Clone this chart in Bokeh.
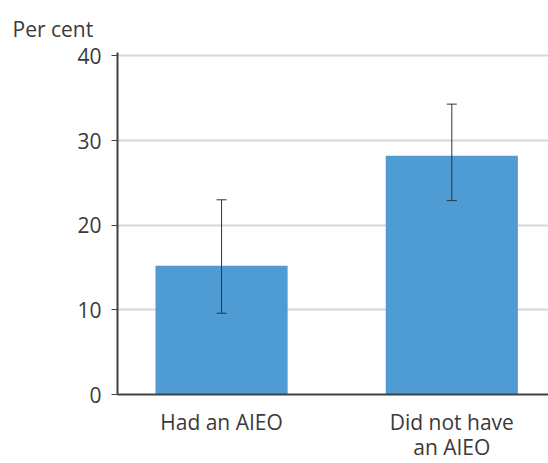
from bokeh.plotting import figure
from bokeh.models import ColumnDataSource, Range1d, FixedTicker, Whisker, TeeHead
from bokeh.embed import file_html
from bokeh.resources import INLINE

categories = ["Had an AIEO", "Did not have\nan AIEO"]
values = [15.2, 28.2]
upper = [23.0, 34.3]
lower = [9.6, 22.9]
y_ticks = [0, 10, 20, 30, 40]
y_unit = "Per cent"

xpos = list(range(1, len(categories) + 1))
src = ColumnDataSource(dict(x=xpos, top=values, upper=upper, lower=lower))

FONT = "Open Sans"
TXT = "#3a3a3a"

p = figure(width=548, height=463, output_backend="svg", toolbar_location=None,
           x_range=Range1d(0.548, 2.42), y_range=Range1d(0, 40.4),
           title=y_unit, min_border_left=117, min_border_right=0,
           min_border_top=52, min_border_bottom=64)
p.outline_line_color = None
p.background_fill_color = "white"
p.border_fill_color = "white"

p.title.text_font = FONT
p.title.text_font_size = "21px"
p.title.text_font_style = "normal"
p.title.text_color = TXT
p.title.align = "left"
p.title.offset = -105
p.title.standoff = 20

p.vbar(x="x", top="top", width=0.574, source=src, fill_color="#4f9cd5", line_color=None)

w = Whisker(base="x", upper="upper", lower="lower", source=src, level="overlay",
            line_color="#333333", line_width=1,
            upper_head=TeeHead(size=10, line_color="#333333", line_width=1),
            lower_head=TeeHead(size=10, line_color="#333333", line_width=1))
p.add_layout(w)

p.xaxis.ticker = FixedTicker(ticks=xpos)
p.xaxis.major_label_overrides = {x: c for x, c in zip(xpos, categories)}
p.yaxis.ticker = FixedTicker(ticks=y_ticks)

for ax in (p.xaxis, p.yaxis):
    ax.axis_line_color = "#404040"
    ax.axis_line_width = 2
    ax.major_label_text_font = FONT
    ax.major_label_text_font_size = "21px"
    ax.major_label_text_color = TXT
    ax.minor_tick_line_color = None
    ax.major_tick_in = 0

p.xaxis.major_tick_line_color = None
p.xaxis.major_label_standoff = 7
p.xaxis.major_label_text_line_height = 0.9
p.yaxis.major_tick_out = 6
p.yaxis.major_tick_line_color = "#404040"
p.yaxis.major_tick_line_width = 1
p.yaxis.major_label_standoff = 10

p.xgrid.grid_line_color = None
p.ygrid.grid_line_color = "#d6d6db"
p.ygrid.grid_line_width = 2

open("out.html", "w").write(file_html(p, INLINE))
